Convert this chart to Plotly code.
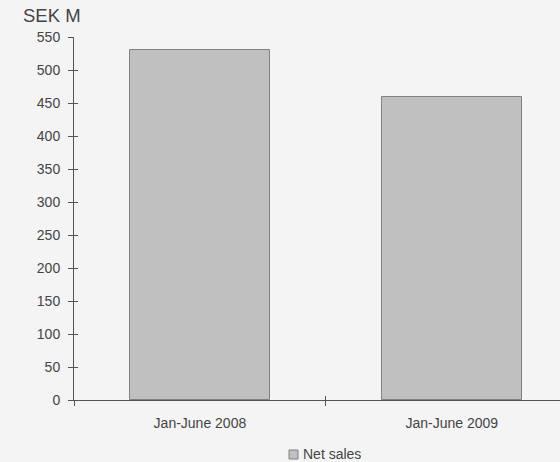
import plotly.graph_objects as go

categories = ["Jan-June 2008", "Jan-June 2009"]
net_sales = [530, 459]
y_ticks = [0, 50, 100, 150, 200, 250, 300, 350, 400, 450, 500, 550]
series_name = "Net sales"
axis_title = "SEK M"

bg = "#f4f4f4"
axis_col = "#555555"
txt_col = "#444444"
font = "Liberation Sans, Arial, sans-serif"

fig = go.Figure()
fig.add_trace(go.Bar(
    x=categories, y=net_sales, name=series_name,
    marker=dict(color="#c0c0c0", line=dict(color="#808080", width=1)),
    width=0.556, showlegend=False,
))
# dummy trace so overlay axes (crossing tick halves) render
fig.add_trace(go.Scatter(x=[None], y=[None], xaxis="x2", yaxis="y2", showlegend=False,
                         hoverinfo="skip"))

xr = [-0.5, 1.43]
fig.update_layout(
    width=560, height=462,
    margin=dict(l=74, r=0, t=37, b=62, autoexpand=False),
    paper_bgcolor=bg, plot_bgcolor=bg,
    font=dict(family=font, size=14, color=txt_col),
    showlegend=False,
    xaxis=dict(type="category", range=xr, showgrid=False, showline=True, linecolor=axis_col,
               linewidth=1, ticks="outside", tickson="boundaries", ticklen=5, tickcolor=axis_col,
               tickfont=dict(size=14, color=txt_col), zeroline=False, ticklabelstandoff=10),
    yaxis=dict(range=[0, 550], tickvals=y_ticks, showgrid=False, showline=True, linecolor=axis_col,
               linewidth=1, ticks="outside", ticklen=5, tickcolor=axis_col, zeroline=False,
               tickfont=dict(size=14, color=txt_col), ticklabelstandoff=5),
    xaxis2=dict(overlaying="x", anchor="y", range=xr, tickvals=[0.5], ticks="inside", ticklen=4,
                tickcolor=axis_col, showticklabels=False, showgrid=False, showline=False,
                zeroline=False, side="bottom"),
    yaxis2=dict(overlaying="y", anchor="x", range=[0, 550], tickvals=y_ticks, ticks="inside",
                ticklen=4, tickcolor=axis_col, showticklabels=False, showgrid=False,
                showline=False, zeroline=False, side="left"),
    bargap=0,
)
fig.add_annotation(text=axis_title, xref="paper", yref="paper", x=0, y=1, xshift=-53, yshift=22,
                   xanchor="left", yanchor="middle", showarrow=False,
                   font=dict(size=18.5, color=txt_col, family=font))
# legend: small swatch + label
fig.add_shape(type="rect", xref="paper", yref="paper",
              x0=(289 - 74) / 486, x1=(298 - 74) / 486,
              y0=-(459 - 400) / 363, y1=-(450 - 400) / 363,
              fillcolor="#c0c0c0", line=dict(color="#808080", width=1))
fig.add_annotation(text=series_name, xref="paper", yref="paper", x=(301 - 74) / 486,
                   y=-(454.5 - 400) / 363, xanchor="left", yanchor="middle", showarrow=False,
                   font=dict(size=14, color=txt_col, family=font))
fig.write_html("out.html")
